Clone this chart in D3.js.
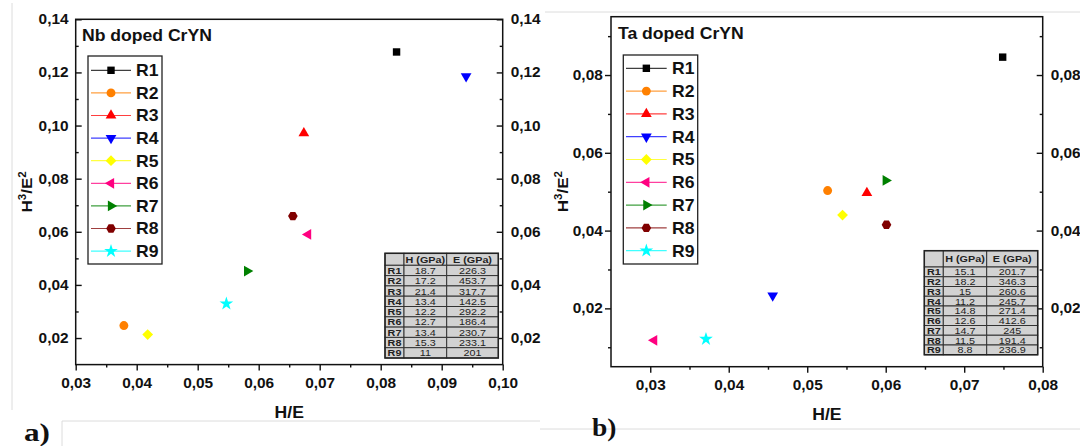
<!DOCTYPE html>
<html>
<head>
<meta charset="utf-8">
<script src="https://cdn.jsdelivr.net/npm/d3@7"></script>
<style>
  body { margin: 0; background: #fff; }
  svg { display: block; font-family: "Liberation Sans", Arial, sans-serif; }
</style>
</head>
<body>
<svg id="chart" width="1080" height="446"></svg>
<script>
// series
const seriesNames = ["R1", "R2", "R3", "R4", "R5", "R6", "R7", "R8", "R9"];
const seriesColors = ["#000000", "#ff8000", "#ff0000", "#0000ff", "#ffff00", "#ff0080", "#008000", "#800000", "#00ffff"];
const seriesShapes = ["square", "circle", "up", "down", "diamond", "left", "right", "hexagon", "star"];

// a) Nb doped CrYN
const nbHE   = [0.0826, 0.0379, 0.0674, 0.0940, 0.0418, 0.0681, 0.0581, 0.0656, 0.0547];
const nbH3E2 = [0.1277, 0.0247, 0.0971, 0.1185, 0.0213, 0.0590, 0.0452, 0.0659, 0.0329];
const nbHardness = ["18.7", "17.2", "21.4", "13.4", "12.2", "12.7", "13.4", "15.3", "11"];
const nbModulus  = ["226.3", "453.7", "317.7", "142.5", "292.2", "186.4", "230.7", "233.1", "201"];
const nbXTicks = [0.03, 0.04, 0.05, 0.06, 0.07, 0.08, 0.09, 0.10];
const nbYTicks = [0.02, 0.04, 0.06, 0.08, 0.10, 0.12, 0.14];

// b) Ta doped CrYN
const taHE   = [0.0749, 0.0526, 0.0576, 0.0456, 0.0545, 0.0305, 0.0600, 0.0601, 0.0371];
const taH3E2 = [0.0846, 0.0503, 0.0497, 0.0233, 0.0440, 0.0118, 0.0529, 0.0415, 0.0121];
const taHardness = ["15.1", "18.2", "15", "11.2", "14.8", "12.6", "14.7", "11.5", "8.8"];
const taModulus  = ["201.7", "346.3", "260.6", "245.7", "271.4", "412.6", "245", "191.4", "236.9"];
const taXTicks = [0.03, 0.04, 0.05, 0.06, 0.07, 0.08];
const taYTicks = [0.02, 0.04, 0.06, 0.08];

const tableHeader = ["", "H (GPa)", "E (GPa)"];

const SX = 1.1; // the picture is a bit wide, stretch text horizontally
const svg = d3.select("#chart");
const fmt = d => d3.format(".2f")(d).replace(".", ",");

// hexagon for R8
const symbolHexagon = {
  draw(ctx, size) {
    const r = Math.sqrt(size / (1.5 * Math.sqrt(3)));
    for (let i = 0; i < 6; i++) {
      const a = Math.PI / 3 * i;
      if (i === 0) ctx.moveTo(r * Math.cos(a), r * Math.sin(a));
      else ctx.lineTo(r * Math.cos(a), r * Math.sin(a));
    }
    ctx.closePath();
  }
};
const shapeType = {
  square: [d3.symbolSquare, 55, 0], circle: [d3.symbolCircle, 62, 0],
  up: [d3.symbolTriangle, 50, 0], down: [d3.symbolTriangle, 50, 180],
  left: [d3.symbolTriangle, 50, -90], right: [d3.symbolTriangle, 50, 90],
  diamond: [d3.symbolSquare, 58, 45], hexagon: [symbolHexagon, 60, 0],
  star: [d3.symbolStar, 58, 0]
};

function marker(g, shape, color, cx, cy) {
  const t = shapeType[shape];
  g.append("path")
    .attr("d", d3.symbol().type(t[0]).size(t[1])())
    .attr("transform", "translate(" + cx + "," + cy + ") rotate(" + t[2] + ")")
    .attr("fill", color);
}

function label(g, x, y, str, size, anchor, weight) {
  return g.append("text")
    .attr("transform", "translate(" + x + "," + y + ") scale(" + SX + ",1)")
    .attr("text-anchor", anchor || "start")
    .attr("font-size", size)
    .attr("font-weight", weight || "bold")
    .attr("fill", "#111")
    .text(str);
}

function midpoints(ticks, step) {
  const out = [];
  ticks.forEach(t => { out.push(t - step / 2); });
  out.push(ticks[ticks.length - 1] + step / 2);
  return out;
}

function drawPanel(p) {
  const g = svg.append("g");
  const x = d3.scaleLinear().domain(p.xDomain).range([p.left, p.right]);
  const y = d3.scaleLinear().domain(p.yDomain).range([p.bottom, p.top]);

  const xMinor = midpoints(p.xTicks, 0.01).filter(v => v >= p.xDomain[0] && v <= p.xDomain[1]);
  const yMinor = midpoints(p.yTicks, 0.02).filter(v => v > p.yDomain[0] && v <= p.yDomain[1]);

  function styleAxis(sel) {
    sel.select(".domain").remove();
    sel.selectAll(".tick line").attr("stroke", "#111").attr("stroke-width", 1.4);
    sel.selectAll(".tick text")
      .attr("font-size", 14).attr("font-weight", "bold").attr("fill", "#111")
      .attr("font-family", "'Liberation Sans', Arial, sans-serif")
      .attr("transform", "scale(" + SX + ",1)");
  }

  // bottom axis, ticks outward
  g.append("g").attr("transform", "translate(0," + p.bottom + ")")
    .call(d3.axisBottom(x).tickValues(xMinor).tickSize(3).tickFormat(""))
    .call(styleAxis);
  g.append("g").attr("transform", "translate(0," + p.bottom + ")")
    .call(d3.axisBottom(x).tickValues(p.xTicks).tickSize(6).tickPadding(7).tickFormat(fmt))
    .call(styleAxis);

  // left axis
  const ls = p.leftInward ? -1 : 1;
  g.append("g").attr("transform", "translate(" + p.left + ",0)")
    .call(d3.axisLeft(y).tickValues(yMinor).tickSize(3 * ls).tickFormat(""))
    .call(styleAxis);
  g.append("g").attr("transform", "translate(" + p.left + ",0)")
    .call(d3.axisLeft(y).tickValues(p.yTicks).tickSize(6 * ls)
      .tickPadding(p.leftInward ? 6.5 : 1.5).tickFormat(fmt))
    .call(styleAxis);

  // right axis, ticks inward
  g.append("g").attr("transform", "translate(" + p.right + ",0)")
    .call(d3.axisRight(y).tickValues(yMinor).tickSize(-3).tickFormat(""))
    .call(styleAxis);
  g.append("g").attr("transform", "translate(" + p.right + ",0)")
    .call(d3.axisRight(y).tickValues(p.yTicks).tickSize(-6).tickPadding(7.3).tickFormat(fmt))
    .call(styleAxis);

  // frame
  g.append("rect")
    .attr("x", p.left).attr("y", p.top)
    .attr("width", p.right - p.left).attr("height", p.bottom - p.top)
    .attr("fill", "none").attr("stroke", "#111").attr("stroke-width", 1.5);

  // axis titles
  label(g, (p.left + p.right) / 2, p.xTitleY, "H/E", 16, "middle");
  const yt = g.append("text")
    .attr("transform", "translate(" + p.yTitleX + "," + (p.top + p.bottom) / 2 + ") rotate(-90) scale(" + SX + ",1)")
    .attr("text-anchor", "middle").attr("font-size", 15.5).attr("font-weight", "bold").attr("fill", "#111");
  yt.append("tspan").text("H");
  yt.append("tspan").attr("dy", -6).attr("font-size", 10.5).text("3");
  yt.append("tspan").attr("dy", 6).text("/E");
  yt.append("tspan").attr("dy", -6).attr("font-size", 10.5).text("2");

  label(g, p.titleX, p.titleY, p.title, 16, "start");

  // points
  p.xs.forEach((v, i) => marker(g, seriesShapes[i], seriesColors[i], x(v), y(p.ys[i])));

  // legend
  const L = p.legend;
  g.append("rect").attr("x", L.x0).attr("y", L.y0)
    .attr("width", L.x1 - L.x0).attr("height", L.y1 - L.y0)
    .attr("fill", "#fff").attr("stroke", "#222").attr("stroke-width", 1.3);
  seriesNames.forEach((name, i) => {
    const cy = L.rowY0 + i * L.step;
    g.append("line").attr("x1", L.lx0).attr("x2", L.lx1).attr("y1", cy).attr("y2", cy)
      .attr("stroke", seriesColors[i]).attr("stroke-width", 1.2).attr("opacity", 0.75);
    marker(g, seriesShapes[i], seriesColors[i], (L.lx0 + L.lx1) / 2, cy);
    label(g, L.tx, cy + 5.8, name, 16, "start");
  });

  // data table
  const T = p.table;
  const rows = [tableHeader].concat(seriesNames.map((n, i) => [n, p.hard[i], p.mod[i]]));
  const tg = g.append("g");
  rows.forEach((r, ri) => {
    const ry = ri === 0 ? T.top : T.headBottom + (ri - 1) * T.rowH;
    const rh = ri === 0 ? T.headBottom - T.top : T.rowH;
    r.forEach((cell, ci) => {
      tg.append("rect")
        .attr("x", T.cols[ci]).attr("y", ry)
        .attr("width", T.cols[ci + 1] - T.cols[ci]).attr("height", rh)
        .attr("fill", "#d2d2d2").attr("stroke", "#333").attr("stroke-width", 1);
      if (cell !== "")
        label(tg, (T.cols[ci] + T.cols[ci + 1]) / 2, ry + rh / 2 + 3.5, cell, 9.8,
          "middle", (ri === 0 || ci === 0) ? "bold" : "normal").attr("fill", "#222");
    });
  });
  tg.append("rect")
    .attr("x", T.cols[0]).attr("y", T.top)
    .attr("width", T.cols[3] - T.cols[0]).attr("height", T.headBottom + 9 * T.rowH - T.top)
    .attr("fill", "none").attr("stroke", "#222").attr("stroke-width", 1.5);

  // panel letter
  svg.append("text")
    .attr("transform", "translate(" + p.letterX + "," + p.letterY + ") scale(" + p.letterSX + ",1)")
    .attr("font-family", "'Liberation Serif', 'Times New Roman', serif")
    .attr("font-size", p.letterSize).attr("font-weight", "bold").attr("fill", "#111")
    .text(p.letter);
}

// faint frames of the pasted figures
const frame = svg.append("g").attr("fill", "none").attr("stroke", "#dcdcdc").attr("stroke-width", 1);
frame.append("path").attr("d", "M12,3V410");
frame.append("path").attr("d", "M62,446V421H540");
frame.append("path").attr("d", "M545,12H1080");
frame.append("path").attr("d", "M540,429H1080");

drawPanel({
  xDomain: [0.03, 0.10], yDomain: [0.01, 0.14],
  left: 75.7, right: 502.7, top: 19.3, bottom: 364.6,
  xTicks: nbXTicks, yTicks: nbYTicks, leftInward: true,
  xs: nbHE, ys: nbH3E2, hard: nbHardness, mod: nbModulus,
  title: "Nb doped CrYN", titleX: 82, titleY: 41,
  xTitleY: 418, yTitleX: 32,
  legend: { x0: 88, y0: 56, x1: 162, y1: 264, rowY0: 70.3, step: 22.6, lx0: 91, lx1: 131, tx: 136 },
  table: { cols: [385, 404, 446.7, 498.3], top: 253.3, headBottom: 265.3, rowH: 10.3 },
  letter: "a)", letterX: 24, letterY: 441, letterSX: 1.2, letterSize: 26
});

drawPanel({
  xDomain: [0.025, 0.08], yDomain: [0.005, 0.095],
  left: 611, right: 1042.7, top: 16.7, bottom: 366.7,
  xTicks: taXTicks, yTicks: taYTicks, leftInward: false,
  xs: taHE, ys: taH3E2, hard: taHardness, mod: taModulus,
  title: "Ta doped CrYN", titleX: 618, titleY: 39,
  xTitleY: 420, yTitleX: 568,
  legend: { x0: 623.3, y0: 55, x1: 697.7, y1: 264, rowY0: 68.3, step: 22.8, lx0: 626, lx1: 666.7, tx: 672 },
  table: { cols: [924.3, 943.3, 986.7, 1037.7], top: 250.7, headBottom: 267, rowH: 9.75 },
  letter: "b)", letterX: 592, letterY: 436, letterSX: 1.1, letterSize: 25
});
</script>
</body>
</html>
